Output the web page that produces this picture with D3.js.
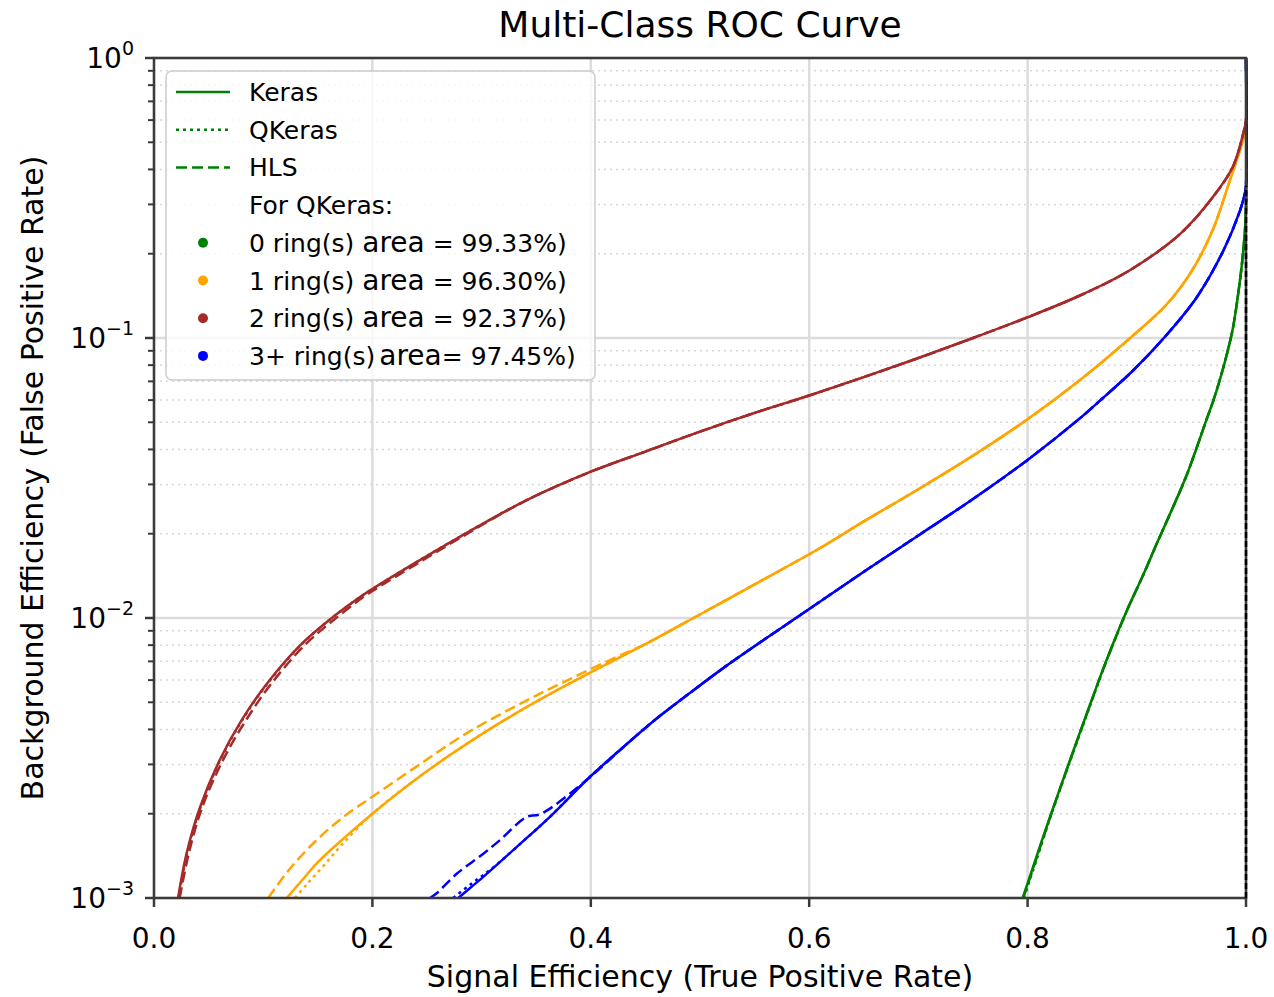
<!DOCTYPE html>
<html>
<head>
<meta charset="utf-8">
<script src="https://cdn.jsdelivr.net/npm/d3@7"></script>
<style>
body { margin: 0; background: #fff; }
text { font-family: "DejaVu Sans", sans-serif; fill: #000; }
</style>
</head>
<body>
<div id="chart"></div>
<script>
// tick values and labels
var xTicks = [0.0, 0.2, 0.4, 0.6, 0.8, 1.0];
var yTicks = [1, 0.1, 0.01, 0.001];
var yTickExp = ["0", "\u22121", "\u22122", "\u22123"];

// legend text
var modelNames = ["Keras", "QKeras", "HLS"];
var classBefore = ["0 ring(s) ", "1 ring(s) ", "2 ring(s) ", "3+ ring(s)"];
var classAfter = [" = 99.33%)", " = 96.30%)", " = 92.37%)", "= 97.45%)"];

// [tpr, fpr], one list per class and model
var keras0 = [[0.7955,0.001],[0.808,0.0014],[0.8205,0.00195],[0.8358,0.00288],[0.8571,0.0049],[0.8724,0.0071],[0.8907,0.0106],[0.905,0.014],[0.9182,0.0184],[0.932,0.0243],[0.9457,0.0324],[0.964,0.0513],[0.97,0.0596],[0.976,0.0708],[0.982,0.0861],[0.9875,0.1059],[0.9915,0.1318],[0.9975,0.2042],[1.0,0.2884],[1.0,1.0]];
var qkeras0 = [[0.7965,0.001],[0.809,0.0014],[0.821,0.00195],[0.8362,0.00288],[0.8575,0.0049],[0.8727,0.0071],[0.8909,0.0106],[0.905,0.014],[0.9182,0.0184],[0.932,0.0243],[0.9457,0.0324],[0.964,0.0513],[0.97,0.0596],[0.976,0.0708],[0.982,0.0861],[0.9875,0.1059],[0.9915,0.1318],[0.9975,0.2042],[1.0,0.2884],[1.0,1.0]];
var hls0 = [[0.796,0.001],[0.8085,0.0014],[0.8208,0.00195],[0.836,0.00288],[0.8573,0.0049],[0.8726,0.0071],[0.8908,0.0106],[0.905,0.014],[0.9182,0.0184],[0.932,0.0243],[0.9457,0.0324],[0.964,0.0513],[0.97,0.0596],[0.976,0.0708],[0.982,0.0861],[0.9875,0.1059],[0.9915,0.1318],[0.9975,0.2042],[1.0,0.2884],[1.0,1.0]];

var keras1 = [[0.1215,0.001],[0.135,0.00115],[0.149,0.00133],[0.175,0.00165],[0.2,0.002],[0.235,0.00257],[0.271,0.00324],[0.31,0.00407],[0.354,0.00513],[0.402,0.00646],[0.45,0.00807],[0.494,0.01],[0.55,0.01318],[0.61,0.01778],[0.65,0.02213],[0.7,0.02884],[0.75,0.038],[0.8,0.0513],[0.848,0.0708],[0.894,0.1],[0.925,0.1288],[0.94,0.1514],[0.955,0.1862],[0.97,0.2455],[0.985,0.363],[0.9975,0.513],[1.0,0.57],[1.0,1.0]];
var qkeras1 = [[0.129,0.001],[0.14,0.00112],[0.155,0.0013],[0.172,0.00155],[0.2,0.002],[0.235,0.00257],[0.271,0.00324],[0.31,0.00407],[0.354,0.00513],[0.402,0.00646],[0.45,0.00807],[0.494,0.01],[0.55,0.01318],[0.61,0.01778],[0.65,0.02213],[0.7,0.02884],[0.75,0.038],[0.8,0.0513],[0.848,0.0708],[0.894,0.1],[0.925,0.1288],[0.94,0.1514],[0.955,0.1862],[0.97,0.2455],[0.985,0.363],[0.9975,0.513],[1.0,0.57],[1.0,1.0]];
var hls1 = [[0.1047,0.001],[0.125,0.00128],[0.149,0.00161],[0.17,0.0019],[0.185,0.0021],[0.2,0.0023],[0.24,0.00294],[0.285,0.00385],[0.338,0.005],[0.38,0.00603],[0.42,0.00715],[0.45,0.00807],[0.494,0.01],[0.55,0.01318],[0.61,0.01778],[0.65,0.02213],[0.7,0.02884],[0.75,0.038],[0.8,0.0513],[0.848,0.0708],[0.894,0.1],[0.925,0.1288],[0.94,0.1514],[0.955,0.1862],[0.97,0.2455],[0.985,0.363],[0.9975,0.513],[1.0,0.57],[1.0,1.0]];

var keras2 = [[0.022,0.001],[0.03,0.00145],[0.042,0.0021],[0.06,0.0031],[0.08,0.0043],[0.103,0.0058],[0.134,0.008],[0.16,0.0098],[0.189,0.0119],[0.2,0.0127],[0.24,0.0158],[0.28,0.0195],[0.34,0.0262],[0.4,0.0333],[0.45,0.0393],[0.5,0.0463],[0.55,0.054],[0.6,0.0623],[0.65,0.0725],[0.7,0.0848],[0.75,0.1],[0.8,0.1186],[0.85,0.143],[0.894,0.175],[0.94,0.236],[0.97,0.32],[0.988,0.409],[0.9975,0.538],[1.0,0.6],[1.0,1.0]];
var qkeras2 = [[0.0225,0.001],[0.0305,0.00145],[0.0425,0.0021],[0.0605,0.0031],[0.0805,0.0043],[0.1035,0.0058],[0.1345,0.008],[0.16,0.0098],[0.189,0.0119],[0.2,0.0127],[0.24,0.0158],[0.28,0.0195],[0.34,0.0262],[0.4,0.0333],[0.45,0.0393],[0.5,0.0463],[0.55,0.054],[0.6,0.0623],[0.65,0.0725],[0.7,0.0848],[0.75,0.1],[0.8,0.1186],[0.85,0.143],[0.894,0.175],[0.94,0.236],[0.97,0.32],[0.988,0.409],[0.9975,0.538],[1.0,0.6],[1.0,1.0]];
var hls2 = [[0.0235,0.001],[0.032,0.00145],[0.044,0.0021],[0.063,0.0031],[0.084,0.0043],[0.107,0.0058],[0.138,0.008],[0.164,0.0098],[0.192,0.0119],[0.203,0.0127],[0.243,0.0158],[0.282,0.0195],[0.34,0.0262],[0.4,0.0333],[0.45,0.0393],[0.5,0.0463],[0.55,0.054],[0.6,0.0623],[0.65,0.0725],[0.7,0.0848],[0.75,0.1],[0.8,0.1186],[0.85,0.143],[0.894,0.175],[0.94,0.236],[0.97,0.32],[0.988,0.409],[0.9975,0.538],[1.0,0.6],[1.0,1.0]];

var keras3 = [[0.2787,0.001],[0.29,0.00109],[0.3016,0.00119],[0.332,0.00152],[0.3626,0.00195],[0.3993,0.00271],[0.4359,0.00363],[0.457,0.00427],[0.49,0.00537],[0.5244,0.00676],[0.5916,0.01023],[0.65,0.01462],[0.7,0.01972],[0.75,0.0266],[0.8,0.0367],[0.85,0.0525],[0.866,0.0596],[0.8968,0.0767],[0.927,0.1023],[0.9548,0.1396],[0.979,0.2042],[0.9945,0.285],[0.999,0.329],[1.0,0.35],[1.0,1.0]];
var qkeras3 = [[0.274,0.001],[0.29,0.00112],[0.31,0.00128],[0.34,0.00162],[0.3626,0.00195],[0.3993,0.00271],[0.4359,0.00363],[0.457,0.00427],[0.49,0.00537],[0.5244,0.00676],[0.5916,0.01023],[0.65,0.01462],[0.7,0.01972],[0.75,0.0266],[0.8,0.0367],[0.85,0.0525],[0.866,0.0596],[0.8968,0.0767],[0.927,0.1023],[0.9548,0.1396],[0.979,0.2042],[0.9945,0.285],[0.999,0.329],[1.0,0.35],[1.0,1.0]];
var hls3 = [[0.2527,0.001],[0.2589,0.00104],[0.2772,0.00122],[0.3016,0.00144],[0.3168,0.00161],[0.3413,0.00195],[0.3535,0.00199],[0.3931,0.00258],[0.4359,0.00363],[0.457,0.00427],[0.49,0.00537],[0.5244,0.00676],[0.5916,0.01023],[0.65,0.01462],[0.7,0.01972],[0.75,0.0266],[0.8,0.0367],[0.85,0.0525],[0.866,0.0596],[0.8968,0.0767],[0.927,0.1023],[0.9548,0.1396],[0.979,0.2042],[0.9945,0.285],[0.999,0.329],[1.0,0.35],[1.0,1.0]];

// black dashed line along tpr = 1
var refLine = [[1.0,0.001],[1.0,0.35]];

var classColors = ["green", "orange", "brown", "blue"];
var modelDash = ["none", "3,4", "11,5"];

var width = 1274, height = 997;
var plot = {left: 154, right: 1246, top: 58, bottom: 898};

var svg = d3.select("#chart")
    .append("svg")
    .attr("width", width)
    .attr("height", height);

var x = d3.scaleLinear().domain([0, 1]).range([plot.left, plot.right]);
var y = d3.scaleLog().domain([1e-3, 1]).range([plot.bottom, plot.top]);

// grid: minor dotted first, then major solid
var minorY = [];
yTicks.slice(0, 3).forEach(function(d) {
    for (var k = 2; k <= 9; k++) minorY.push(d * k / 10);
});
svg.append("g").selectAll("line")
    .data(minorY)
    .enter().append("line")
    .attr("x1", plot.left).attr("x2", plot.right)
    .attr("y1", function(d) { return y(d); })
    .attr("y2", function(d) { return y(d); })
    .attr("stroke", "#d8d8d8")
    .attr("stroke-width", 1.5)
    .attr("stroke-dasharray", "2,4");

svg.append("g").selectAll("line")
    .data(yTicks)
    .enter().append("line")
    .attr("x1", plot.left).attr("x2", plot.right)
    .attr("y1", function(d) { return y(d); })
    .attr("y2", function(d) { return y(d); })
    .attr("stroke", "#dcdcdc")
    .attr("stroke-width", 2.5);

svg.append("g").selectAll("line")
    .data(xTicks)
    .enter().append("line")
    .attr("x1", function(d) { return x(d); })
    .attr("x2", function(d) { return x(d); })
    .attr("y1", plot.top).attr("y2", plot.bottom)
    .attr("stroke", "#dcdcdc")
    .attr("stroke-width", 2.5);

// curves, clipped to the plot box
svg.append("clipPath").attr("id", "clip")
    .append("rect")
    .attr("x", plot.left).attr("y", plot.top - 2)
    .attr("width", plot.right - plot.left + 2)
    .attr("height", plot.bottom - plot.top + 2);

var line = d3.line()
    .curve(d3.curveCatmullRom.alpha(0.5))
    .x(function(d) { return x(d[0]); })
    .y(function(d) { return y(d[1]); });

var curves = svg.append("g").attr("clip-path", "url(#clip)");

var series = [
    [keras0, qkeras0, hls0],
    [keras1, qkeras1, hls1],
    [keras2, qkeras2, hls2],
    [keras3, qkeras3, hls3]
];
series.forEach(function(models, c) {
    models.forEach(function(pts, m) {
        curves.append("path")
            .attr("d", line(pts))
            .attr("fill", "none")
            .attr("stroke", classColors[c])
            .attr("stroke-width", 2.5)
            .attr("stroke-dasharray", modelDash[m]);
    });
});

// frame
svg.append("rect")
    .attr("x", plot.left).attr("y", plot.top)
    .attr("width", plot.right - plot.left)
    .attr("height", plot.bottom - plot.top)
    .attr("fill", "none")
    .attr("stroke", "#3a3a3a")
    .attr("stroke-width", 2.5);

// dashed line drawn over the frame, as in the picture
svg.append("path")
    .attr("d", line(refLine))
    .attr("fill", "none")
    .attr("stroke", "black")
    .attr("stroke-width", 2.5)
    .attr("stroke-dasharray", "6,3");

// y ticks: major and minor
svg.append("g").selectAll("line")
    .data(yTicks)
    .enter().append("line")
    .attr("x1", plot.left - 9).attr("x2", plot.left)
    .attr("y1", function(d) { return y(d); })
    .attr("y2", function(d) { return y(d); })
    .attr("stroke", "#3a3a3a").attr("stroke-width", 2.5);
svg.append("g").selectAll("line")
    .data(minorY)
    .enter().append("line")
    .attr("x1", plot.left - 6).attr("x2", plot.left)
    .attr("y1", function(d) { return y(d); })
    .attr("y2", function(d) { return y(d); })
    .attr("stroke", "#3a3a3a").attr("stroke-width", 2);

var yLab = svg.append("g").selectAll("text")
    .data(yTicks)
    .enter().append("text")
    .attr("x", plot.left - 20)
    .attr("y", function(d) { return y(d) + 10; })
    .attr("text-anchor", "end")
    .style("font-size", "28px");
yLab.append("tspan").text("10");
yLab.append("tspan")
    .attr("dy", -13)
    .style("font-size", "19px")
    .text(function(d, i) { return yTickExp[i]; });

// x ticks
svg.append("g").selectAll("line")
    .data(xTicks)
    .enter().append("line")
    .attr("x1", function(d) { return x(d); })
    .attr("x2", function(d) { return x(d); })
    .attr("y1", plot.bottom).attr("y2", plot.bottom + 9)
    .attr("stroke", "#3a3a3a").attr("stroke-width", 2.5);
svg.append("g").selectAll("text")
    .data(xTicks)
    .enter().append("text")
    .attr("x", function(d) { return x(d); })
    .attr("y", plot.bottom + 50)
    .attr("text-anchor", "middle")
    .style("font-size", "28px")
    .text(function(d) { return d.toFixed(1); });

// titles
svg.append("text")
    .attr("x", (plot.left + plot.right) / 2)
    .attr("y", 37)
    .attr("text-anchor", "middle")
    .style("font-size", "36px")
    .text("Multi-Class ROC Curve");
svg.append("text")
    .attr("x", (plot.left + plot.right) / 2)
    .attr("y", 987)
    .attr("text-anchor", "middle")
    .style("font-size", "30px")
    .text("Signal Efficiency (True Positive Rate)");
svg.append("text")
    .attr("transform", "translate(43," + (plot.top + plot.bottom) / 2 + ") rotate(-90)")
    .attr("text-anchor", "middle")
    .style("font-size", "30px")
    .text("Background Efficiency (False Positive Rate)");

// legend
var legend = svg.append("g");
legend.append("rect")
    .attr("x", 166).attr("y", 71)
    .attr("width", 429).attr("height", 309)
    .attr("rx", 6)
    .attr("fill", "white").attr("fill-opacity", 0.8)
    .attr("stroke", "#cccccc").attr("stroke-width", 1.5);

var rowY = function(i) { return 92 + i * 37.7; };

modelNames.forEach(function(name, i) {
    legend.append("line")
        .attr("x1", 176).attr("x2", 230)
        .attr("y1", rowY(i)).attr("y2", rowY(i))
        .attr("stroke", classColors[0])
        .attr("stroke-width", 2.5)
        .attr("stroke-dasharray", modelDash[i]);
    legend.append("text")
        .attr("x", 249).attr("y", rowY(i) + 9)
        .style("font-size", "25px")
        .text(name);
});
legend.append("text")
    .attr("x", 249).attr("y", rowY(3) + 9)
    .style("font-size", "25px")
    .text("For QKeras:");

classBefore.forEach(function(label, c) {
    var ry = rowY(4 + c);
    legend.append("circle")
        .attr("cx", 203).attr("cy", ry)
        .attr("r", 5)
        .attr("fill", classColors[c]);
    var t = legend.append("text")
        .attr("x", 249).attr("y", ry + 9)
        .style("font-size", "25px")
        .attr("xml:space", "preserve");
    t.append("tspan").text(label);
    t.append("tspan")
        .attr("dx", c === 3 ? 4 : 0)
        .style("font-size", "28px")
        .text("area");
    t.append("tspan").text(classAfter[c]);
});
</script>
</body>
</html>
